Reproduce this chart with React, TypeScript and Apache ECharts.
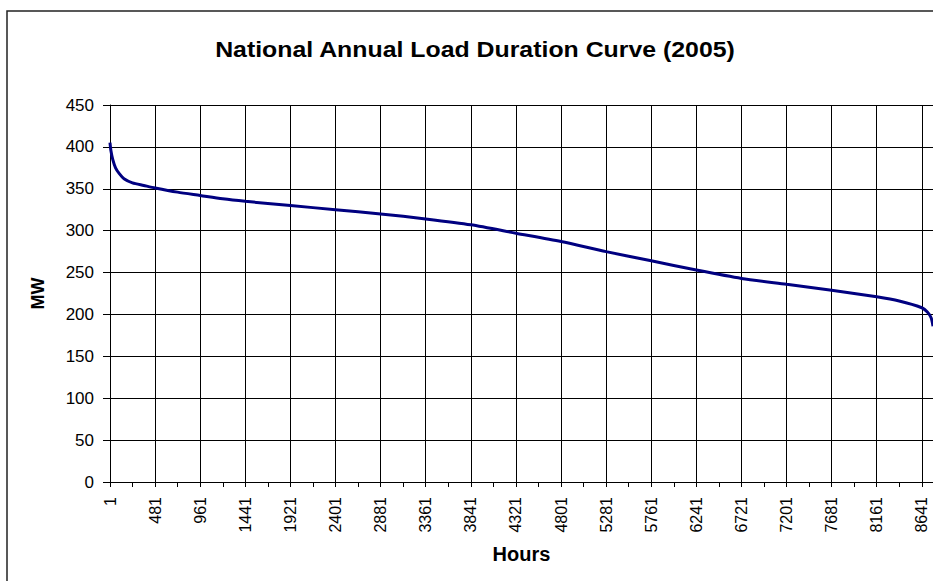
import React, { useEffect, useRef } from "react";
import * as echarts from "echarts";

const titleText = "National Annual Load Duration Curve (2005)";
const xName = "Hours";
const yName = "MW";

// hours sampled along the duration curve
const hours = [1, 10, 30, 60, 100, 150, 240, 360, 481, 720, 961, 1200, 1441, 1921, 2401, 2881, 3361, 3841, 4321, 4801, 5281, 5761, 6241, 6721, 7201, 7681, 8161, 8400, 8641, 8700, 8740, 8760];
// load (MW) at those hours
const loadMW = [405, 396, 385, 375, 368, 362, 357, 354, 351, 346, 342, 338, 335, 330, 325, 320, 314, 307, 297, 287, 275, 264, 253, 243, 236, 229, 221, 216, 208, 203, 196, 186];

const xMin = 1;
const xMax = 8760;
const xStep = 480;
const yMin = 0;
const yMax = 450;
const yStep = 50;

export default function App() {
  const ref = useRef<HTMLDivElement>(null);
  useEffect(() => {
    if (!ref.current) return;
    const chart = echarts.init(ref.current, null, { renderer: "svg" });
    const font = "'Liberation Sans', Arial, sans-serif";
    const data = hours.map((h, i) => [h, loadMW[i]]);
    chart.setOption({
      animation: false,
      backgroundColor: "#ffffff",
      graphic: [
        {
          type: "rect",
          shape: { x: 7, y: 11, width: 1000, height: 1000 },
          style: { fill: "none", stroke: "#222", lineWidth: 1.5 },
          silent: true,
        },
        {
          type: "text",
          x: 475,
          y: 50,
          scaleX: 1.13,
          silent: true,
          style: {
            text: titleText,
            x: 0,
            y: 0,
            align: "center",
            verticalAlign: "middle",
            fontFamily: font,
            fontSize: 22,
            fontWeight: "bold",
            fill: "#000",
          },
        },
      ],
      grid: { left: 110, top: 105, width: 825, height: 377, containLabel: false },
      xAxis: {
        type: "value",
        min: xMin,
        max: xMax,
        interval: xStep,
        name: xName,
        nameLocation: "middle",
        nameGap: 62,
        nameTextStyle: { fontFamily: font, fontSize: 20, fontWeight: "bold", color: "#000" },
        axisLine: { show: true, onZero: false, lineStyle: { color: "#000", width: 1 } },
        axisTick: { show: true, length: 5, lineStyle: { color: "#000" } },
        minorTick: { show: true, splitNumber: 2, length: 5, lineStyle: { color: "#000" } },
        axisLabel: {
          rotate: 90,
          margin: 15,
          fontFamily: font,
          fontSize: 16,
          color: "#000",
          showMaxLabel: false,
          formatter: (v: number) => (v === xMax ? "" : String(v)),
        },
        splitLine: { show: true, lineStyle: { color: "#000", width: 1 } },
      },
      yAxis: {
        type: "value",
        min: yMin,
        max: yMax,
        interval: yStep,
        name: yName,
        nameLocation: "middle",
        nameGap: 63,
        nameRotate: 90,
        nameTextStyle: { fontFamily: font, fontSize: 18, fontWeight: "bold", color: "#000" },
        axisLine: { show: true, lineStyle: { color: "#000", width: 1 } },
        axisTick: { show: true, length: 7, lineStyle: { color: "#000" } },
        axisLabel: { margin: 16, fontFamily: font, fontSize: 17, color: "#000" },
        splitLine: { show: true, lineStyle: { color: "#000", width: 1 } },
      },
      series: [
        {
          type: "line",
          data,
          showSymbol: false,
          smooth: 0.25,
          lineStyle: { color: "#000080", width: 3 },
          itemStyle: { color: "#000080" },
        },
      ],
    });
    return () => chart.dispose();
  }, []);
  return (
    <div
      ref={ref}
      style={{ position: "fixed", left: 0, top: 0, width: 933, height: 581, background: "#fff" }}
    />
  );
}
